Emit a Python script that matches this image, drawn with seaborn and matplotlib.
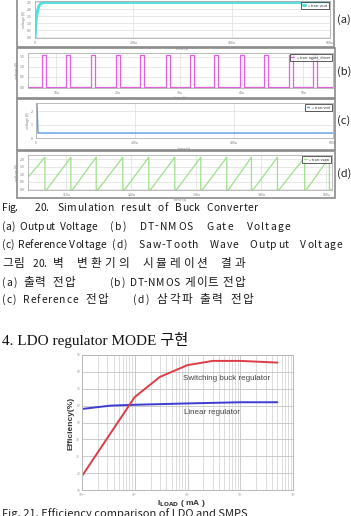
import numpy as np
import pandas as pd
import matplotlib
matplotlib.use("Agg")
import matplotlib.pyplot as plt
from matplotlib.patches import Rectangle
from matplotlib.font_manager import FontProperties
import matplotlib.ticker as mticker
import seaborn as sns

# ---------------- data ----------------
# (a) output voltage (time in us, volts)
a_time = [0, 2, 5, 8, 12, 16, 22, 600]
a_volt = [0, 1.2, 1.9, 2.25, 2.42, 2.48, 2.5, 2.5]
a_ticks = [0, 200, 400, 600]
a_ticklabels = ["0", "200u", "400u", "600u"]

# (b) DT-NMOS gate pulses (start times, us)
b_pulse_start = [7.6, 11.5, 15.6, 19.6, 23.6, 27.7, 31.6, 35.6, 39.7, 43.7, 47.7, 51.6]
b_pulse_width = 0.65
b_high = 1.6
b_low = 0.02
b_ticks = [10, 20, 30, 40, 50]
b_ticklabels = ["10u", "20u", "30u", "40u", "50u"]

# (c) reference voltage
c_time = [0, 2, 4, 600]
c_volt = [2.55, 2.55, 0.37, 0.37]
c_ticks = [0, 200, 400, 600]
c_ticklabels = ["0", "200u", "400u", "600u"]

# (d) saw-tooth (drop instants, us)
d_drop_time = [6.7, 10.7, 14.6, 18.7, 22.7, 26.7, 30.7, 34.7, 38.5, 42.5, 46.7, 50.5]
d_start_level = 0.8
d_high = 2.15
d_low = 0.0
d_ticks = [10, 20, 30, 40, 50]
d_ticklabels = ["110u", "120u", "130u", "140u", "150u"]

# efficiency chart
sw_load = [0.1, 1, 3, 10, 30, 100, 500]
sw_eff = [18, 65, 77, 84, 86.5, 86.5, 85.5]
lin_load = [0.1, 0.35, 1, 10, 100, 500]
lin_eff = [58, 60, 60.5, 61.3, 62, 62]
eff_yticks = [10, 20, 30, 40, 50, 60, 70, 80, 90]

# ---------------- figure ----------------
W, H = 351, 516
sns.set_theme(style="white")
plt.rcParams["font.family"] = ["Noto Sans CJK KR", "DejaVu Sans"]
fig = plt.figure(figsize=(W / 100, H / 100), dpi=100)
fig.patch.set_facecolor("white")
renderer = fig.canvas.get_renderer()


def ax_at(l, t, r, b):
    return fig.add_axes([l / W, 1 - b / H, (r - l) / W, (b - t) / H])


def box(l, t, r, b):
    fig.patches.append(Rectangle((l / W, 1 - b / H), (r - l) / W, (b - t) / H,
                                 transform=fig.transFigure, fill=False,
                                 edgecolor="#8a8a8a", linewidth=1.2))


def ftext(x, y, s, **kw):
    return fig.text(x / W, 1 - y / H, s, **kw)


def style_panel(ax, ticks, labels, legend_text):
    for s in ax.spines.values():
        s.set_color("#b0b0b0")
        s.set_linewidth(0.6)
    ax.set_xticks(ticks)
    ax.set_xticklabels(labels)
    ax.tick_params(axis="both", labelsize=2.5, colors="#777777", length=1.5,
                   width=0.4, pad=0.8, direction="out")
    ax.grid(True, color="#dddddd", linewidth=0.5)
    ax.set_xlabel("time (s)", fontsize=2.5, color="#777777", labelpad=0.5)
    ax.set_ylabel("voltage (V)", fontsize=2.5, color="#777777", labelpad=0.5)
    leg = ax.legend([legend_text], loc="upper right", fontsize=2.6, frameon=True,
                    handlelength=0.8, borderpad=0.4, borderaxespad=0.3)
    leg.get_frame().set_edgecolor("#333333")
    leg.get_frame().set_linewidth(0.7)
    leg.get_frame().set_boxstyle("square", pad=0)


# panel boxes
box(17, -2, 334, 47)
box(17, 48, 335, 98)
box(17, 99, 335, 150)
box(17, 151, 335, 198)

# (a)
ax_a = ax_at(35, 1, 330, 38)
df_a = pd.DataFrame({"t": a_time, "v": a_volt})
sns.lineplot(data=df_a, x="t", y="v", ax=ax_a, color="#55dede", linewidth=2.2,
             estimator=None, sort=False)
ax_a.set_xlim(0, 600)
ax_a.set_ylim(-0.05, 2.6)
ax_a.set_yticks([0, 0.5, 1.0, 1.5, 2.0, 2.5])
style_panel(ax_a, a_ticks, a_ticklabels, "+ tran: vout")

# (b)
bt, bv = [5.4], [b_low]
for s in b_pulse_start:
    bt += [s, s, s + b_pulse_width, s + b_pulse_width]
    bv += [b_low, b_high, b_high, b_low]
bt.append(55)
bv.append(b_low)
ax_b = ax_at(28, 53, 333, 87.7)
df_b = pd.DataFrame({"t": bt, "v": bv})
sns.lineplot(data=df_b, x="t", y="v", ax=ax_b, color="#e060e0", linewidth=0.9,
             estimator=None, sort=False)
ax_b.set_xlim(5.4, 54.8)
ax_b.set_ylim(-0.03, 1.68)
ax_b.set_yticks([0, 0.5, 1.0, 1.5])
style_panel(ax_b, b_ticks, b_ticklabels, "+ tran: ngate_driver")

# (c)
ax_c = ax_at(36, 103, 333, 138)
df_c = pd.DataFrame({"t": c_time, "v": c_volt})
sns.lineplot(data=df_c, x="t", y="v", ax=ax_c, color="#5a9be0", linewidth=1.0,
             estimator=None, sort=False)
ax_c.set_xlim(0, 600)
ax_c.set_ylim(0, 2.6)
ax_c.set_yticks([0, 1.0, 2.0])
style_panel(ax_c, c_ticks, c_ticklabels, "+ tran: vref")

# (d)
dt, dv = [4.1], [d_start_level]
for d in d_drop_time:
    dt += [d, d, d + 0.3]
    dv += [d_high, d_low, d_low]
ax_d = ax_at(28, 155, 332, 189.7)
df_d = pd.DataFrame({"t": dt, "v": dv})
sns.lineplot(data=df_d, x="t", y="v", ax=ax_d, color="#9ee08a", linewidth=0.9,
             estimator=None, sort=False)
ax_d.set_xlim(4.1, 50.9)
ax_d.set_ylim(-0.02, 2.3)
ax_d.set_yticks([0, 0.5, 1.0, 1.5, 2.0])
style_panel(ax_d, d_ticks, d_ticklabels, "+ tran: vsaw")

# panel letters
for lab, y in [("(a)", 20), ("(b)", 72), ("(c)", 121), ("(d)", 174)]:
    ftext(337, y, lab, fontsize=8, va="center", ha="left", color="#222222")

# ---------------- captions (justified like the page) ----------------
LAT_SIZE = 7.4
KOR_SIZE = 8.4
fp_lat = FontProperties(family=["Noto Sans CJK KR", "DejaVu Sans"], size=LAT_SIZE)
fp_kor = FontProperties(family=["Noto Sans CJK KR", "DejaVu Sans"], size=KOR_SIZE)


def is_kor(ch):
    return ord(ch) > 0x3000


def raw_w(s, fp):
    return renderer.get_text_width_height_descent(s, fp, ismath=False)[0]


def adv(ch):
    fp = fp_kor if is_kor(ch) else fp_lat
    return raw_w("|" + ch + "|", fp) - raw_w("||", fp)


def fitted(x0, x1, y, s, space_share=0.5):
    advs = [adv(ch) for ch in s]
    natural = sum(advs[:-1]) + raw_w(s[-1], fp_kor if is_kor(s[-1]) else fp_lat)
    n = len(s)
    n_sp = s.count(" ")
    total_extra = x1 - x0 - natural
    if total_extra < 0 or n_sp == 0:
        space_share = 0.0
    sp_extra = total_extra * space_share / max(n_sp, 1)
    ch_extra = total_extra * (1 - space_share) / max(n - 1, 1)
    pos = x0
    for i, ch in enumerate(s):
        if ch != " ":
            ftext(pos, y, ch, fontsize=KOR_SIZE if is_kor(ch) else LAT_SIZE,
                  va="center", ha="left", color="#1a1a1a")
        pos += advs[i] + ch_extra + (sp_extra if ch == " " else 0.0)


fitted(2, 17, 208, "Fig.")
fitted(35, 48, 208, "20.")
fitted(57, 258, 208, "Simulation result of Buck Converter")
fitted(2, 97, 226.5, "(a) Output Voltage")
fitted(110, 290, 226.5, "(b) DT-NMOS Gate Voltage")
fitted(2, 106, 245, "(c) Reference Voltage")
fitted(112, 342, 245, "(d) Saw-Tooth Wave Output Voltage")
fitted(2, 25, 264, "그림")
fitted(33, 46, 264, "20.")
fitted(53, 245, 264, "벽 변환기의 시뮬레이션 결과", space_share=0.3)
fitted(2, 75, 282.5, "(a) 출력 전압", space_share=0.3)
fitted(110, 245, 282.5, "(b) DT-NMOS 게이트 전압", space_share=0.3)
fitted(2, 108, 300, "(c) Reference 전압", space_share=0.3)
fitted(133, 253, 300, "(d) 삼각파 출력 전압", space_share=0.3)

ftext(2, 340, "4. LDO regulator MODE 구현", fontsize=11, va="center", ha="left",
      color="#111111", family=["Liberation Serif", "Noto Sans CJK KR"])

ftext(2, 508.5, "Fig. 21. Efficiency comparison of LDO and SMPS", fontsize=8, va="top",
      ha="left", color="#222222")

# ---------------- efficiency chart ----------------
ax = ax_at(81.7, 355, 293.3, 490)
df_sw = pd.DataFrame({"load": sw_load, "eff": sw_eff})
df_lin = pd.DataFrame({"load": lin_load, "eff": lin_eff})
sns.lineplot(data=df_lin, x="load", y="eff", ax=ax, color="#3c3cd2", linewidth=1.4,
             estimator=None, sort=False)
sns.lineplot(data=df_sw, x="load", y="eff", ax=ax, color="#dc3c48", linewidth=1.4,
             estimator=None, sort=False)
ax.set_xscale("log")
ax.set_xlim(0.1, 1000)
ax.set_ylim(10, 90)
ax.set_yticks(eff_yticks)
ax.xaxis.set_major_locator(mticker.LogLocator(base=10, numticks=10))
ax.xaxis.set_minor_locator(mticker.LogLocator(base=10, subs=np.arange(2, 10), numticks=20))
ax.grid(True, which="major", color="#c4c4c4", linewidth=0.6)
ax.grid(True, which="minor", axis="x", color="#cfcfcf", linewidth=0.5)
for s in ax.spines.values():
    s.set_color("#b8b8b8")
    s.set_linewidth(0.7)
ax.tick_params(axis="both", which="major", labelsize=2.4, colors="#999999", length=1.0,
               width=0.4, pad=0.2)
ax.tick_params(axis="x", which="minor", length=0)
ax.set_xlabel("")
ax.set_ylabel("")
ftext(181, 503.5, r"I$_{\mathbf{LOAD}}$ ( mA )", fontsize=6, fontweight="bold", color="#333333",
      family="Liberation Sans", ha="center", va="center")
ftext(71, 423, "Efficiency(%)", fontsize=6, fontweight="bold", color="#333333",
      family="Liberation Sans", ha="center", va="center", rotation=90)
ftext(226.7, 379, "Switching buck regulator", fontsize=5.8, ha="center", va="center",
      color="#444444", family="Liberation Sans")
ftext(211.5, 413, "Linear regulator", fontsize=5.8, ha="center", va="center",
      color="#444444", family="Liberation Sans")

fig.savefig("out.png", dpi=100, facecolor="white")
